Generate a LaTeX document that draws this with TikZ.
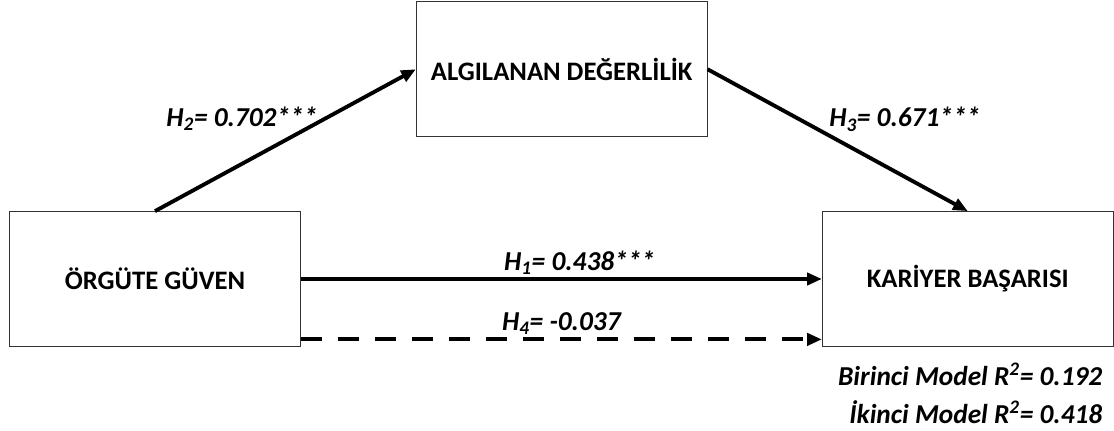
\documentclass[tikz,border=0pt]{standalone}
\usepackage{fontspec}
\setmainfont{Carlito}
\usetikzlibrary{arrows.meta,positioning}

\tikzset{
    % Variable boxes
    varbox/.style={
        rectangle, draw=black!80, line width=0.8pt, fill=white,
        minimum width=218pt, minimum height=101pt,
        font=\fontsize{20}{22}\selectfont\bfseries
    },
    % Path arrows between variables
    patharrow/.style={
        -{Triangle[length=11pt,width=9pt]}, line width=2.9pt, color=black
    },
    coeflabel/.style={
        font=\fontsize{20.5}{24}\selectfont\bfseries\itshape, inner sep=2pt
    },
    r2label/.style={
        font=\fontsize{20.5}{24}\selectfont\bfseries\itshape, inner sep=0pt
    }
}

\begin{document}
\begin{tikzpicture}
\useasboundingbox (-116.25pt,-114pt) rectangle (719.25pt,209.25pt);

% Variables
\node[varbox] (guven) at (0,0) {ÖRGÜTE GÜVEN};
\node[varbox, right=390.75pt of guven] (basari) {KARİYER BAŞARISI};
\node[varbox, above right=55.5pt and 86.25pt of guven] (deger) {ALGILANAN DEĞERLİLİK};

% Paths
\draw[patharrow] (guven.north) -- node[coeflabel, pos=0.64, above left, yshift=-11pt] (h2) {H\textsubscript{2}= 0.702***} (deger.west);
\draw[patharrow] (deger.east) -- node[coeflabel, pos=0.45, above right, yshift=-2pt] (h3) {H\textsubscript{3}= 0.671***} (basari.north);
\draw[patharrow] (guven.east) -- node[coeflabel, pos=0.535, above] (h1) {H\textsubscript{1}= 0.438***} (basari.west);
\draw[patharrow, dash pattern=on 15.75pt off 12pt] ([yshift=5.6pt]guven.south east) -- node[coeflabel, above] (h4) {H\textsubscript{4}= -0.037} ([yshift=5.6pt]basari.south west);

% Explained variance
\node[r2label, anchor=base east] (birinci) at ([xshift=-8.25pt, yshift=-29pt]basari.south east) {Birinci Model R\textsuperscript{2}= 0.192};
\node[r2label, anchor=base east] (ikinci) at ([xshift=-8.25pt, yshift=-57.75pt]basari.south east) {İkinci Model R\textsuperscript{2}= 0.418};

\end{tikzpicture}
\end{document}
